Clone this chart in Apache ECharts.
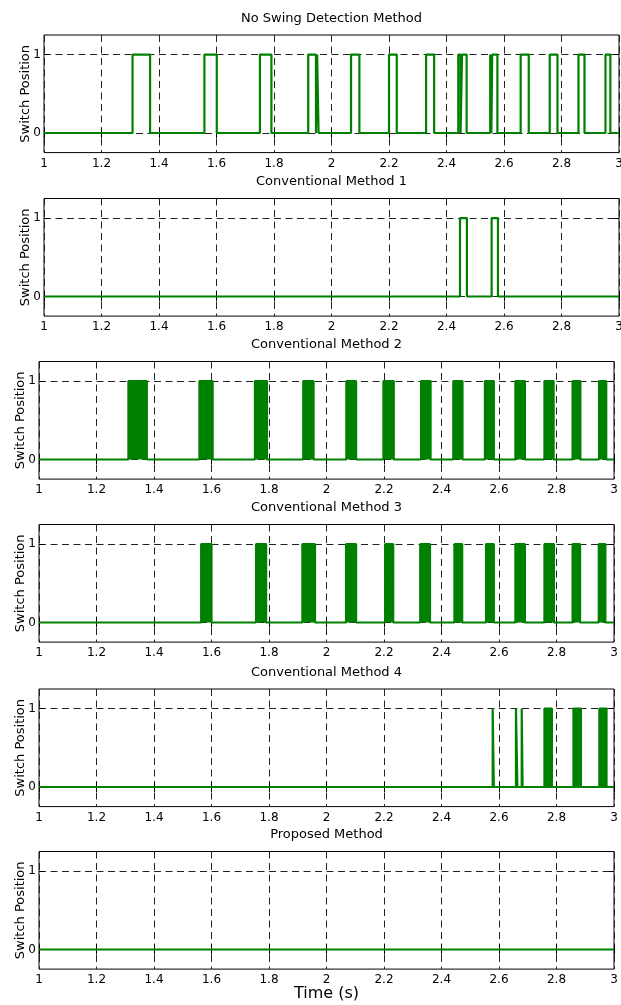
<!DOCTYPE html>
<html>
<head>
<meta charset="utf-8">
<script src="https://cdn.jsdelivr.net/npm/echarts@6/dist/echarts.min.js"></script>
<style>
html, body { margin: 0; padding: 0; background: #fff; }
#chart { width: 621px; height: 1005px; }
</style>
</head>
<body>
<div id="chart"></div>
<script>
// axis settings
const xMin = 1, xMax = 3, xStep = 0.2;
const yTicks = [0, 1];

const titles = [
    "No Swing Detection Method",
    "Conventional Method 1",
    "Conventional Method 2",
    "Conventional Method 3",
    "Conventional Method 4",
    "Proposed Method"
];

// [switch on, switch off] in seconds, drawn as plain pulses
const noSwingPulses = [
    [1.308, 1.369], [1.558, 1.601], [1.751, 1.791], [1.919, 1.946], [1.950, 1.955],
    [2.068, 2.097], [2.200, 2.227], [2.329, 2.357], [2.441, 2.449], [2.454, 2.470],
    [2.552, 2.556], [2.559, 2.577], [2.658, 2.686], [2.759, 2.786], [2.859, 2.880],
    [2.953, 2.970]
];
const conv1Pulses = [[2.447, 2.471], [2.557, 2.579]];
const conv4Pulses = [[2.578, 2.582], [2.659, 2.664], [2.679, 2.682]];

// chattering intervals (switch toggles continuously -> solid block)
const conv2Blocks = [
    [1.311, 1.375], [1.558, 1.604], [1.751, 1.793], [1.919, 1.955], [2.069, 2.103],
    [2.198, 2.234], [2.329, 2.362], [2.441, 2.473], [2.551, 2.582], [2.657, 2.690],
    [2.758, 2.790], [2.856, 2.883], [2.948, 2.973]
];
const conv3Blocks = [
    [1.564, 1.600], [1.755, 1.790], [1.916, 1.960], [2.068, 2.103], [2.204, 2.232],
    [2.326, 2.360], [2.445, 2.472], [2.555, 2.582], [2.657, 2.690], [2.758, 2.791],
    [2.856, 2.882], [2.947, 2.970]
];
const conv4Blocks = [[2.758, 2.784], [2.859, 2.885], [2.949, 2.974]];
const proposedPulses = [];

const panels = [
    { pulses: noSwingPulses, blocks: [] },
    { pulses: conv1Pulses, blocks: [] },
    { pulses: [], blocks: conv2Blocks },
    { pulses: [], blocks: conv3Blocks },
    { pulses: conv4Pulses, blocks: conv4Blocks },
    { pulses: proposedPulses, blocks: [] }
];

// layout of each subplot box
const boxes = [
    { left: 44, top: 35 },
    { left: 44, top: 198.5 },
    { left: 39, top: 361.5 },
    { left: 39, top: 524.5 },
    { left: 39, top: 689 },
    { left: 39, top: 851.5 }
];
const boxW = 575, boxH = 117.6;
const green = "#008000";
const font = "DejaVu Sans";

function toSteps(list) {
    const pts = [[xMin, 0]];
    list.forEach(p => {
        pts.push([p[0], 0], [p[0], 1], [p[1], 1], [p[1], 0]);
    });
    pts.push([xMax, 0]);
    return pts;
}

const grids = [], xAxes = [], yAxes = [], series = [], titleList = [];
const dash = { color: "#222", width: 1, type: [7, 4.5] };

panels.forEach((p, i) => {
    const b = boxes[i];
    grids.push({
        left: b.left, top: b.top, width: boxW, height: boxH,
        containLabel: false, outerBoundsMode: "none",
        show: true, borderColor: "#000", borderWidth: 1, backgroundColor: "transparent"
    });
    titleList.push({
        text: titles[i], left: b.left + boxW / 2, top: b.top - 23, textAlign: "center", padding: 0,
        textStyle: { fontFamily: font, fontSize: 13, fontWeight: "normal", color: "#000" }
    });
    xAxes.push({
        type: "value", gridIndex: i, min: xMin, max: xMax, interval: xStep,
        axisLine: { show: false },
        axisTick: { inside: true, length: 5, lineStyle: { color: "#000" } },
        axisLabel: { fontFamily: font, fontSize: 12, color: "#000", margin: 5, hideOverlap: false },
        splitLine: { show: true, lineStyle: dash }
    });
    xAxes.push({
        type: "value", gridIndex: i, position: "top", min: xMin, max: xMax, interval: xStep,
        axisLine: { show: false },
        axisTick: { inside: true, length: 5, lineStyle: { color: "#000" } },
        axisLabel: { show: false },
        splitLine: { show: false }
    });
    yAxes.push({
        type: "value", gridIndex: i, min: -0.25, max: 1.25,
        name: "Switch Position", nameLocation: "middle", nameGap: 12, nameMoveOverlap: false,
        nameTextStyle: { fontFamily: font, fontSize: 13, color: "#000" },
        axisLine: { show: false },
        axisTick: { inside: true, length: 5, customValues: yTicks, lineStyle: { color: "#000" } },
        axisLabel: { fontFamily: font, fontSize: 12, color: "#000", margin: 3, customValues: yTicks },
        splitLine: { show: true, lineStyle: dash }
    });
    yAxes.push({
        type: "value", gridIndex: i, position: "right", min: -0.25, max: 1.25,
        axisLine: { show: false },
        axisTick: { inside: true, length: 5, customValues: yTicks, lineStyle: { color: "#000" } },
        axisLabel: { show: false },
        splitLine: { show: false }
    });
    if (p.pulses.length || !p.blocks.length) {
        series.push({
            type: "line", xAxisIndex: 2 * i, yAxisIndex: 2 * i,
            data: toSteps(p.pulses), showSymbol: false, silent: true,
            lineStyle: { color: green, width: 2.2 }
        });
    }
    if (p.blocks.length) {
        series.push({
            type: "line", xAxisIndex: 2 * i, yAxisIndex: 2 * i,
            data: toSteps(p.blocks), showSymbol: false, silent: true,
            lineStyle: { color: green, width: 2.2 },
            areaStyle: { color: green, opacity: 1 }
        });
    }
});

titleList.push({
    text: "Time (s)", left: boxes[5].left + boxW / 2, top: 986, textAlign: "center", padding: 0,
    textStyle: { fontFamily: font, fontSize: 16, fontWeight: "normal", color: "#000" }
});

const chart = echarts.init(document.getElementById("chart"));
chart.setOption({
    animation: false,
    backgroundColor: "#fff",
    title: titleList,
    grid: grids,
    xAxis: xAxes,
    yAxis: yAxes,
    series: series
});
</script>
</body>
</html>
